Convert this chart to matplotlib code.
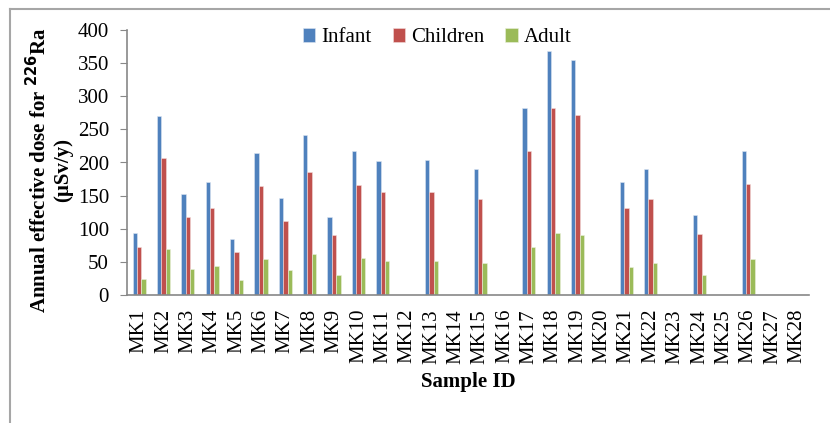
import numpy as np
import matplotlib.pyplot as plt
from matplotlib.lines import Line2D

samples = ["MK%d" % i for i in range(1, 29)]
infant = [94, 270, 153, 171, 85, 215, 146, 242, 117, 217, 203, 0, 204, 0,
          190, 0, 283, 369, 355, 0, 171, 190, 0, 120, 0, 218, 0, 0]
children = [72, 207, 117, 131, 65, 164, 112, 185, 90, 166, 155, 0, 156, 0,
            145, 0, 217, 282, 271, 0, 131, 145, 0, 92, 0, 167, 0, 0]
adult = [24, 69, 39, 44, 22, 55, 37, 62, 30, 56, 52, 0, 52, 0,
         48, 0, 72, 94, 91, 0, 43, 48, 0, 30, 0, 55, 0, 0]

plt.rcParams['font.family'] = ['Liberation Serif', 'DejaVu Serif']

W, H = 830, 423
fig = plt.figure(figsize=(W / 100, H / 100), dpi=100)
ax = fig.add_axes([127 / W, 1 - 295 / H, (809 - 127) / W, (295 - 30) / H])

x = np.arange(len(samples))
w = 0.18
ax.bar(x - w, infant, w, color='#4F81BD', label='Infant', edgecolor='#DCE6F2', linewidth=0.4)
ax.bar(x, children, w, color='#C0504D', label='Children', edgecolor='#F2DCDB', linewidth=0.4)
ax.bar(x + w, adult, w, color='#9BBB59', label='Adult', edgecolor='#EBF1DE', linewidth=0.4)

ax.set_xlim(-0.5, len(samples) - 0.5)
ax.set_ylim(0, 400)
ax.set_yticks(range(0, 401, 50))
ax.tick_params(axis='y', labelsize=15, length=5, color='#888888', pad=8)
ax.set_xticks(x)
ax.set_xticklabels(samples, rotation=90, fontsize=15)
ax.tick_params(axis='x', length=0, pad=10)

for s in ['top', 'right']:
    ax.spines[s].set_visible(False)
for s in ['left', 'bottom']:
    ax.spines[s].set_color('#888888')
    ax.spines[s].set_linewidth(1.2)

ax.set_ylabel("Annual effective dose for $\\mathbf{^{226}}$Ra\n(µSv/y)",
              fontsize=15, fontweight='bold', linespacing=1.15)
ax.yaxis.set_label_coords((73 - 127) / (809 - 127), 0.47)
ax.set_xlabel("Sample ID", fontsize=15, fontweight='bold', labelpad=6)

ax.legend(loc='center', bbox_to_anchor=(0.455, 0.97), ncol=3, frameon=False,
          fontsize=15, handlelength=0.6, handleheight=0.6, handletextpad=0.3,
          columnspacing=1.0)

# gray frame (top and left edges only visible in the crop)
fig.add_artist(Line2D([10 / W, 1.0], [1 - 9 / H, 1 - 9 / H], transform=fig.transFigure,
                      color='#A6A6A6', linewidth=1.5))
fig.add_artist(Line2D([10 / W, 10 / W], [0.0, 1 - 9 / H], transform=fig.transFigure,
                      color='#A6A6A6', linewidth=1.5))

fig.savefig('out.png', dpi=100)
